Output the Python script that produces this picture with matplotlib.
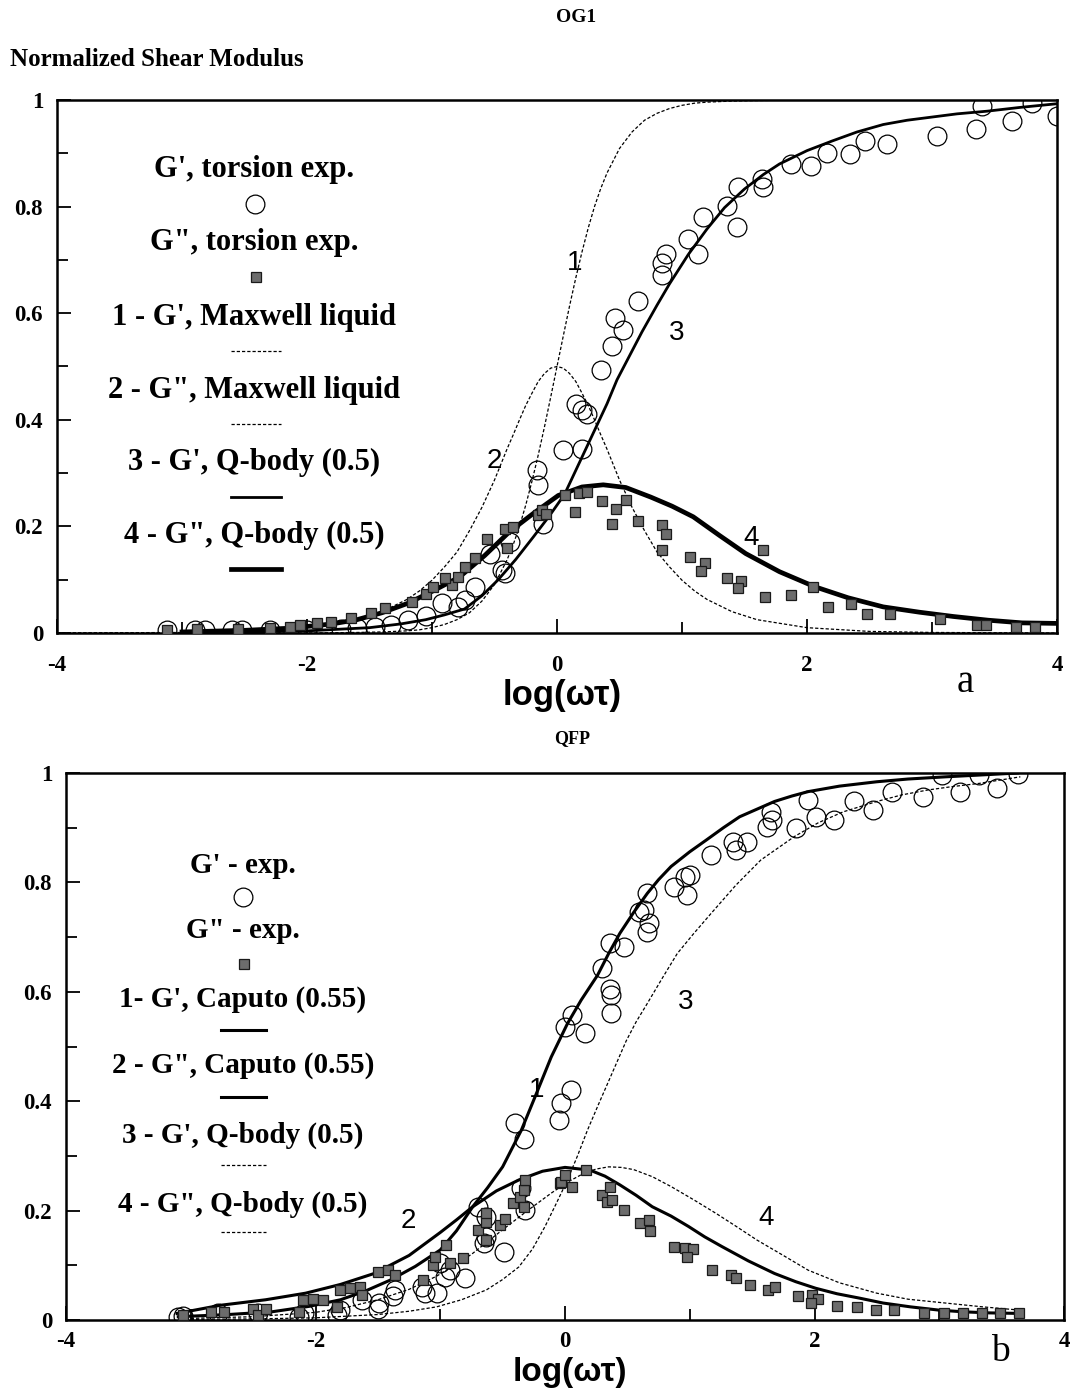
import matplotlib.pyplot as plt
from matplotlib.lines import Line2D

W, H = 1078, 1390

# ---------------- panel a : OG1 ----------------
maxwell_x = [-4, -3, -2.5, -2, -1.6, -1.4, -1.2, -1.1, -1.0, -0.9, -0.8, -0.7, -0.6, -0.5, -0.4,
             -0.35, -0.3, -0.25, -0.2, -0.15, -0.1, -0.05, 0.0, 0.05, 0.1, 0.15, 0.2, 0.25, 0.3,
             0.35, 0.4, 0.5, 0.6, 0.7, 0.8, 0.9, 1.0, 1.1, 1.2, 1.4, 1.6, 2.0, 2.5, 3.0, 4.0]
maxwell_g1 = [0, 0, 0, 0, 0.001, 0.002, 0.004, 0.006, 0.01, 0.016, 0.025, 0.038, 0.06, 0.091, 0.137,
              0.166, 0.2, 0.24, 0.285, 0.334, 0.387, 0.443, 0.5, 0.557, 0.613, 0.666, 0.715, 0.76, 0.8,
              0.834, 0.863, 0.909, 0.94, 0.962, 0.975, 0.984, 0.99, 0.994, 0.996, 0.998, 0.999, 1, 1, 1, 1]
maxwell_g2 = [0.0, 0.001, 0.003, 0.01, 0.025, 0.04, 0.063, 0.079, 0.099, 0.124, 0.152, 0.192, 0.236,
              0.287, 0.345, 0.372, 0.4, 0.427, 0.45, 0.472, 0.487, 0.497, 0.5, 0.497, 0.487, 0.472,
              0.45, 0.427, 0.4, 0.372, 0.345, 0.287, 0.236, 0.192, 0.152, 0.124, 0.099, 0.079, 0.063,
              0.04, 0.025, 0.01, 0.003, 0.001, 0.0]

og1_q1_x = [-3.0, -2.5, -2.0, -1.5, -1.25, -1.05, -0.9, -0.74, -0.6, -0.47, -0.33, -0.19, -0.06,
            0.06, 0.18, 0.3, 0.4, 0.48, 0.58, 0.68, 0.8, 0.9, 1.05, 1.2, 1.34, 1.5, 1.65, 1.78,
            2.0, 2.2, 2.4, 2.61, 2.8, 3.0, 3.2, 3.44, 3.7, 4.0]
og1_q1_y = [0.001, 0.002, 0.004, 0.01, 0.017, 0.025, 0.034, 0.045, 0.07, 0.1, 0.138, 0.18, 0.22,
            0.26, 0.32, 0.38, 0.43, 0.475, 0.52, 0.565, 0.615, 0.655, 0.71, 0.758, 0.798, 0.833, 0.86,
            0.88, 0.905, 0.923, 0.94, 0.954, 0.962, 0.968, 0.974, 0.979, 0.986, 0.993]
og1_q2_x = [-3.0, -2.5, -2.14, -1.8, -1.6, -1.4, -1.19, -1.0, -0.78, -0.58, -0.38, -0.18, 0.01,
            0.2, 0.37, 0.55, 0.75, 0.92, 1.09, 1.3, 1.51, 1.78, 2.06, 2.33, 2.61, 2.9, 3.17, 3.45,
            3.72, 4.0]
og1_q2_y = [0.002, 0.005, 0.009, 0.017, 0.025, 0.038, 0.056, 0.078, 0.105, 0.145, 0.19, 0.226, 0.258,
            0.274, 0.278, 0.273, 0.255, 0.238, 0.218, 0.183, 0.149, 0.115, 0.087, 0.066, 0.049, 0.039,
            0.031, 0.024, 0.019, 0.018]

og1_storage = [(-3.12, 0.006), (-2.90, 0.006), (-2.82, 0.006), (-2.60, 0.006), (-2.52, 0.006),
               (-2.30, 0.006), (-2.00, 0.006), (-1.73, 0.007), (-1.60, 0.009), (-1.46, 0.011),
               (-1.33, 0.015), (-1.19, 0.024), (-1.05, 0.031), (-0.92, 0.056), (-0.79, 0.049),
               (-0.74, 0.062), (-0.66, 0.087), (-0.44, 0.118), (-0.42, 0.112), (-0.54, 0.149),
               (-0.38, 0.171), (-0.16, 0.305), (-0.15, 0.277), (-0.11, 0.205), (0.05, 0.343),
               (0.20, 0.346), (0.15, 0.43), (0.20, 0.418), (0.24, 0.41), (0.35, 0.493),
               (0.44, 0.538), (0.53, 0.569), (0.46, 0.591), (0.65, 0.622), (0.84, 0.672),
               (0.84, 0.695), (0.87, 0.712), (1.13, 0.712), (1.05, 0.739), (1.17, 0.78),
               (1.44, 0.761), (1.36, 0.801), (1.45, 0.837), (1.65, 0.836), (1.64, 0.851),
               (1.87, 0.88), (2.03, 0.876), (2.16, 0.901), (2.34, 0.898), (2.46, 0.924),
               (2.64, 0.917), (3.04, 0.933), (3.35, 0.945), (3.64, 0.961), (3.40, 0.989),
               (3.80, 0.995), (4.00, 0.97)]
og1_loss = [(-3.12, 0.006), (-2.88, 0.007), (-2.55, 0.007), (-2.30, 0.009), (-2.14, 0.012),
            (-2.06, 0.015), (-1.92, 0.018), (-1.81, 0.021), (-1.65, 0.029), (-1.49, 0.037),
            (-1.38, 0.046), (-1.16, 0.059), (-1.05, 0.073), (-0.99, 0.087), (-0.84, 0.09),
            (-0.90, 0.104), (-0.79, 0.105), (-0.74, 0.124), (-0.66, 0.14), (-0.56, 0.177),
            (-0.40, 0.159), (-0.42, 0.196), (-0.35, 0.199), (-0.15, 0.221), (-0.12, 0.23),
            (-0.09, 0.224), (0.06, 0.258), (0.14, 0.227), (0.175, 0.262), (0.24, 0.265),
            (0.36, 0.248), (0.44, 0.204), (0.47, 0.233), (0.55, 0.249), (0.65, 0.21),
            (0.84, 0.202), (0.87, 0.185), (0.84, 0.155), (1.06, 0.143), (1.18, 0.131),
            (1.15, 0.117), (1.36, 0.104), (1.47, 0.098), (1.45, 0.084), (1.65, 0.155),
            (1.66, 0.067), (1.87, 0.072), (2.05, 0.087), (2.17, 0.049), (2.35, 0.054),
            (2.48, 0.036), (2.66, 0.036), (3.06, 0.026), (3.36, 0.015), (3.43, 0.015),
            (3.67, 0.012), (3.82, 0.012)]

# ---------------- panel b : QFP ----------------
qfp_c1_x = [-3.1, -2.7, -2.35, -2.05, -1.8, -1.6, -1.4, -1.2, -1.0, -0.87, -0.74, -0.62, -0.5,
            -0.35, -0.24, -0.11, 0.02, 0.13, 0.26, 0.35, 0.44, 0.55, 0.66, 0.75, 0.85, 1.0, 1.13,
            1.27, 1.4, 1.55, 1.68, 1.82, 1.95, 2.2, 2.5, 2.75, 3.05, 3.3, 3.63]
qfp_c1_y = [0.006, 0.01, 0.015, 0.025, 0.037, 0.053, 0.073, 0.098, 0.128, 0.163, 0.207, 0.242, 0.28,
            0.347, 0.408, 0.481, 0.542, 0.585, 0.63, 0.67, 0.707, 0.745, 0.78, 0.805, 0.829, 0.856,
            0.877, 0.9, 0.92, 0.935, 0.948, 0.958, 0.966, 0.976, 0.984, 0.989, 0.993, 0.996, 1.0]
qfp_c2_x = [-3.11, -2.76, -2.4, -2.08, -1.8, -1.53, -1.25, -1.0, -0.87, -0.74, -0.55, -0.37, -0.18,
            0.0, 0.2, 0.32, 0.44, 0.57, 0.7, 0.85, 0.99, 1.12, 1.26, 1.47, 1.68, 1.85, 2.01, 2.18,
            2.36, 2.55, 2.77, 3.0, 3.19, 3.4, 3.65]
qfp_c2_y = [0.012, 0.027, 0.037, 0.049, 0.065, 0.085, 0.118, 0.16, 0.183, 0.207, 0.236, 0.256, 0.272,
            0.279, 0.274, 0.263, 0.247, 0.228, 0.207, 0.19, 0.171, 0.152, 0.134, 0.108, 0.085, 0.07,
            0.058, 0.048, 0.04, 0.031, 0.024, 0.018, 0.015, 0.013, 0.012]
qfp_q1_x = [-3.0, -2.5, -2.0, -1.5, -1.25, -1.03, -0.83, -0.63, -0.5, -0.37, -0.26, -0.16, -0.07,
            0.02, 0.1, 0.18, 0.27, 0.36, 0.49, 0.57, 0.65, 0.78, 0.9, 1.03, 1.17, 1.37, 1.57, 1.84,
            2.03, 2.23, 2.5, 2.7, 2.91, 3.1, 3.32, 3.65]
qfp_q1_y = [0.001, 0.002, 0.004, 0.01, 0.016, 0.024, 0.037, 0.055, 0.074, 0.097, 0.13, 0.171, 0.213,
            0.256, 0.3, 0.347, 0.395, 0.442, 0.51, 0.545, 0.575, 0.625, 0.67, 0.706, 0.743, 0.795,
            0.841, 0.884, 0.909, 0.929, 0.948, 0.96, 0.969, 0.975, 0.981, 0.993]
qfp_q2_x = [-3.0, -2.5, -2.0, -1.75, -1.5, -1.25, -1.03, -0.75, -0.5, -0.3, -0.11, 0.02, 0.15, 0.25,
            0.35, 0.45, 0.55, 0.7, 0.85, 1.03, 1.21, 1.38, 1.54, 1.75, 1.95, 2.2, 2.5, 2.75, 3.05,
            3.35, 3.65]
qfp_q2_y = [0.003, 0.006, 0.014, 0.023, 0.037, 0.056, 0.08, 0.12, 0.165, 0.2, 0.232, 0.252, 0.268,
            0.276, 0.28, 0.279, 0.275, 0.262, 0.244, 0.22, 0.195, 0.17, 0.146, 0.118, 0.091, 0.068,
            0.049, 0.038, 0.031, 0.024, 0.018]

qfp_storage = [(-3.10, 0.006), (-3.06, 0.008), (-2.78, 0.012), (-2.46, 0.012), (-2.13, 0.006),
               (-2.09, 0.012), (-1.83, 0.009), (-1.80, 0.018), (-1.63, 0.037), (-1.50, 0.021),
               (-1.49, 0.031), (-1.38, 0.043), (-1.36, 0.055), (-1.15, 0.061), (-1.12, 0.049),
               (-1.03, 0.049), (-1.0, 0.104), (-0.96, 0.079), (-0.92, 0.091), (-0.80, 0.076),
               (-0.70, 0.207), (-0.65, 0.14), (-0.63, 0.152), (-0.63, 0.189), (-0.49, 0.125),
               (-0.35, 0.241), (-0.32, 0.201), (-0.40, 0.36), (-0.33, 0.33), (-0.045, 0.366),
               (-0.03, 0.396), (0.05, 0.42), (0.0, 0.536), (0.055, 0.558), (0.16, 0.524),
               (0.37, 0.561), (0.37, 0.594), (0.36, 0.606), (0.30, 0.643), (0.36, 0.689),
               (0.47, 0.682), (0.66, 0.71), (0.67, 0.725), (0.59, 0.746), (0.63, 0.75),
               (0.66, 0.78), (0.87, 0.792), (0.98, 0.777), (0.96, 0.81), (1.00, 0.814),
               (1.17, 0.85), (1.37, 0.859), (1.35, 0.874), (1.46, 0.873), (1.62, 0.902),
               (1.66, 0.914), (1.65, 0.929), (1.85, 0.899), (2.01, 0.92), (1.95, 0.951),
               (2.16, 0.914), (2.32, 0.948), (2.47, 0.932), (2.62, 0.966), (2.87, 0.957),
               (3.17, 0.966), (3.46, 0.972), (3.02, 0.996), (3.32, 0.996), (3.63, 0.999)]
qfp_loss = [(-3.06, 0.009), (-2.84, 0.015), (-2.73, 0.015), (-2.50, 0.021), (-2.46, 0.009),
            (-2.40, 0.021), (-2.13, 0.015), (-2.10, 0.037), (-2.02, 0.038), (-1.94, 0.037),
            (-1.83, 0.024), (-1.80, 0.055), (-1.72, 0.058), (-1.64, 0.061), (-1.63, 0.046),
            (-1.50, 0.087), (-1.42, 0.091), (-1.36, 0.082), (-1.14, 0.073), (-1.06, 0.10),
            (-1.04, 0.116), (-0.95, 0.137), (-0.92, 0.104), (-0.82, 0.113), (-0.70, 0.165),
            (-0.63, 0.146), (-0.63, 0.18), (-0.63, 0.195), (-0.52, 0.174), (-0.48, 0.184),
            (-0.42, 0.213), (-0.36, 0.225), (-0.33, 0.207), (-0.33, 0.238), (-0.32, 0.256),
            (-0.04, 0.25), (-0.03, 0.253), (0.0, 0.265), (0.06, 0.244), (0.165, 0.274),
            (0.30, 0.229), (0.34, 0.216), (0.36, 0.244), (0.38, 0.219), (0.47, 0.201),
            (0.60, 0.177), (0.67, 0.183), (0.68, 0.163), (0.87, 0.134), (0.96, 0.131),
            (1.03, 0.129), (0.98, 0.115), (1.18, 0.091), (1.33, 0.082), (1.37, 0.076),
            (1.48, 0.064), (1.63, 0.055), (1.68, 0.061), (1.87, 0.044), (1.98, 0.046),
            (2.03, 0.038), (1.97, 0.031), (2.18, 0.026), (2.34, 0.024), (2.49, 0.018),
            (2.64, 0.018), (2.88, 0.013), (3.04, 0.013), (3.19, 0.013), (3.34, 0.013),
            (3.49, 0.013), (3.64, 0.013)]

x_ticks = [-4, -2, 0, 2, 4]
x_ticklabels = ['-4', '-2', '0', '2', '4']
y_ticks = [0, 0.2, 0.4, 0.6, 0.8, 1]
y_ticklabels = ['0', '0.2', '0.4', '0.6', '0.8', '1']

SERIF = 'Liberation Serif'
SANS = 'Liberation Sans'
DOT = (0, (2.6, 1.6))
SQ_FACE = '#6c6c6c'


def fx(px):
    return px / W


def fy(py):
    return 1 - py / H


def style_axes(ax, xpad):
    ax.set_xlim(-4, 4)
    ax.set_ylim(0, 1)
    ax.set_xticks(x_ticks)
    ax.set_xticklabels(x_ticklabels)
    ax.set_xticks([-3, -1, 1, 3], minor=True)
    ax.set_yticks(y_ticks)
    ax.set_yticklabels(y_ticklabels)
    ax.set_yticks([0.1, 0.3, 0.5, 0.7, 0.9], minor=True)
    ax.tick_params(which='both', direction='in', width=1.3, top=False, right=False)
    ax.tick_params(which='major', length=10)
    ax.tick_params(which='minor', length=8)
    ax.tick_params(axis='x', pad=xpad)
    ax.tick_params(axis='y', pad=10)
    for lab in ax.get_xticklabels() + ax.get_yticklabels():
        lab.set_fontfamily(SERIF)
        lab.set_fontweight('bold')
        lab.set_fontsize(16.5)
    for s in ax.spines.values():
        s.set_linewidth(1.8)


def scatter(ax, pts, kind):
    xs = [p[0] for p in pts]
    ys = [p[1] for p in pts]
    if kind == 'o':
        ax.plot(xs, ys, 'o', ms=13.5, mfc='none', mec='black', mew=0.9, zorder=3)
    else:
        ax.plot(xs, ys, 's', ms=7, mfc=SQ_FACE, mec='#1a1a1a', mew=0.9, zorder=4)


def ftext(px, py, s, size, bold=True, family=SERIF, ha='center', va='center'):
    fig.text(fx(px), fy(py), s, fontsize=size, fontweight='bold' if bold else 'normal',
             family=family, ha=ha, va=va)


def legend_line(x1, x2, py, **kw):
    fig.add_artist(Line2D([fx(x1), fx(x2)], [fy(py), fy(py)], transform=fig.transFigure,
                          color='black', **kw))


def legend_marker(px, py, kind):
    if kind == 'o':
        m = Line2D([fx(px)], [fy(py)], marker='o', ms=13.5, mfc='none', mec='black', mew=0.9,
                   transform=fig.transFigure)
    else:
        m = Line2D([fx(px)], [fy(py)], marker='s', ms=7, mfc=SQ_FACE, mec='#1a1a1a', mew=0.9,
                   transform=fig.transFigure)
    fig.add_artist(m)


fig = plt.figure(figsize=(W / 100, H / 100), dpi=100)

# ---- top panel ----
ax1 = fig.add_axes([fx(57), fy(633), (1057 - 57) / W, (633 - 100) / H])
ax1.plot(maxwell_x, maxwell_g1, color='black', lw=0.9, ls=DOT)
ax1.plot(maxwell_x, maxwell_g2, color='black', lw=0.9, ls=DOT)
ax1.plot(og1_q1_x, og1_q1_y, color='black', lw=2.0)
ax1.plot(og1_q2_x, og1_q2_y, color='black', lw=3.4)
scatter(ax1, og1_storage, 'o')
scatter(ax1, og1_loss, 's')
style_axes(ax1, 16)

# ---- bottom panel ----
ax2 = fig.add_axes([fx(66), fy(1320), (1064 - 66) / W, (1320 - 773) / H])
ax2.plot(qfp_c1_x, qfp_c1_y, color='black', lw=2.2)
ax2.plot(qfp_c2_x, qfp_c2_y, color='black', lw=2.2)
ax2.plot(qfp_q1_x, qfp_q1_y, color='black', lw=0.9, ls=DOT)
ax2.plot(qfp_q2_x, qfp_q2_y, color='black', lw=0.9, ls=DOT)
scatter(ax2, qfp_storage, 'o')
scatter(ax2, qfp_loss, 's')
style_axes(ax2, 8)

# ---- titles / labels ----
ftext(576, 18, 'OG1', 14)
ftext(10, 60, 'Normalized Shear Modulus', 18, ha='left')
ftext(562, 696, 'log(ωτ)', 25, family=SANS)
ftext(965, 683, 'a', 28, bold=False)
ftext(572, 739, 'QFP', 13)
ftext(570, 1372, 'log(ωτ)', 24, family=SANS)
ftext(1000, 1352, 'b', 27, bold=False)

# curve numbers
for px, py, s in [(575, 263, '1'), (677, 333, '3'), (494, 461, '2'), (751, 538, '4'),
                  (537, 1090, '1'), (686, 1002, '3'), (408, 1221, '2'), (766, 1218, '4')]:
    ftext(px, py, s, 20, bold=False, family=SANS)

# ---- legend, panel a ----
cx = 254
ftext(cx, 177, "G', torsion exp.", 22, va='baseline')
legend_marker(255, 204, 'o')
ftext(cx, 250, 'G", torsion exp.', 22, va='baseline')
legend_marker(256, 277, 's')
ftext(cx, 325, "1 - G', Maxwell liquid", 22, va='baseline')
legend_line(231, 281, 351, lw=0.9, ls=DOT)
ftext(cx, 398, '2 - G", Maxwell liquid', 22, va='baseline')
legend_line(231, 281, 424, lw=0.9, ls=DOT)
ftext(cx, 470, "3 - G', Q-body (0.5)", 22, va='baseline')
legend_line(231, 281, 497, lw=2.0)
ftext(cx, 543, '4 - G", Q-body (0.5)', 22, va='baseline')
legend_line(231, 281, 569, lw=3.4)

# ---- legend, panel b ----
cx = 243
ftext(cx, 873, "G' - exp.", 21, va='baseline')
legend_marker(243, 897, 'o')
ftext(cx, 938, 'G" - exp.', 21, va='baseline')
legend_marker(244, 964, 's')
ftext(cx, 1007, "1- G', Caputo (0.55)", 21, va='baseline')
legend_line(221, 266, 1030, lw=2.2)
ftext(cx, 1073, '2 - G", Caputo (0.55)', 21, va='baseline')
legend_line(221, 266, 1097, lw=2.2)
ftext(cx, 1143, "3 - G', Q-body (0.5)", 21, va='baseline')
legend_line(221, 266, 1165, lw=0.9, ls=DOT)
ftext(cx, 1212, '4 - G", Q-body (0.5)', 21, va='baseline')
legend_line(221, 266, 1232, lw=0.9, ls=DOT)

fig.savefig('out.png', dpi=100)
